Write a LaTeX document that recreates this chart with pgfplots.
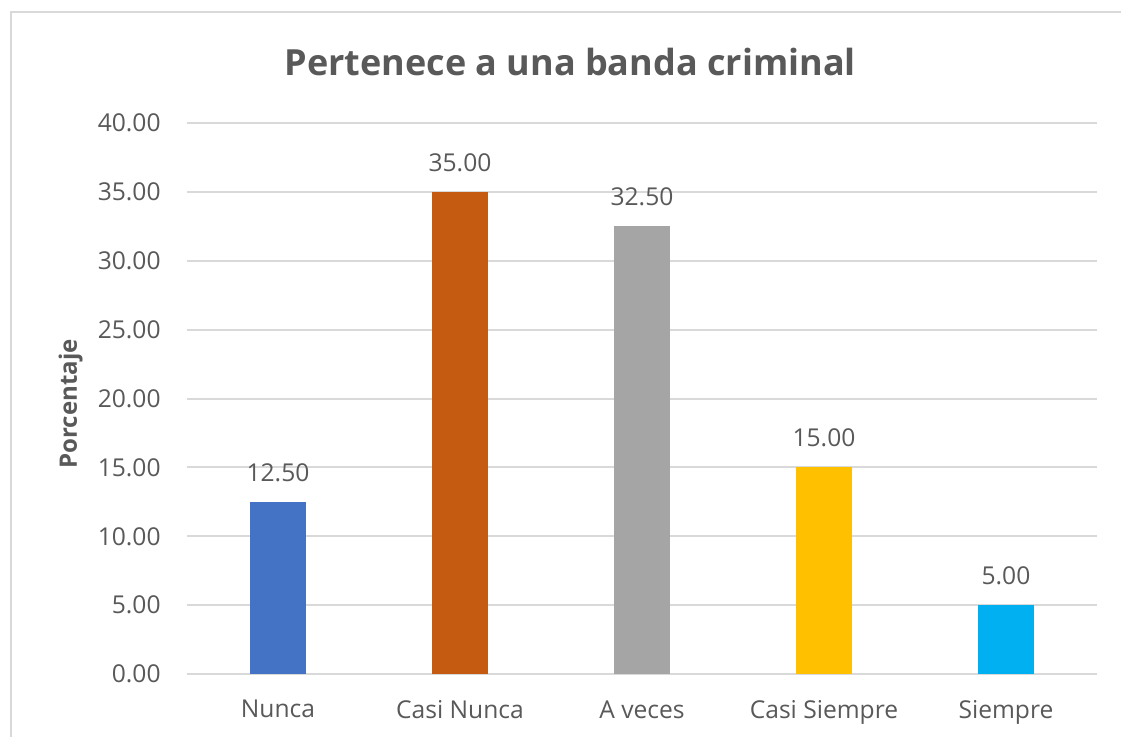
\documentclass[border=0pt]{standalone}
\usepackage{fontspec}
\setmainfont{Open Sans}
\usepackage{pgfplots}
\pgfplotsset{compat=1.18}
\definecolor{txt}{HTML}{595959}
\definecolor{gridc}{HTML}{D9D9D9}
\definecolor{c1}{HTML}{4472C4}
\definecolor{c2}{HTML}{C55A11}
\definecolor{c3}{HTML}{A5A5A5}
\definecolor{c4}{HTML}{FFC000}
\definecolor{c5}{HTML}{00B0F0}
\begin{document}
\begin{tikzpicture}
\useasboundingbox (0,0) rectangle (560.5pt,368pt);
\clip (0,0) rectangle (560.5pt,368pt);
\fill[white] (0,0) rectangle (560.5pt,368pt);
\draw[gridc, line width=1pt] (5.5pt,-10pt) -- (5.5pt,362pt) -- (580pt,362pt);
\begin{axis}[
  at={(93.5pt,31pt)}, anchor=south west,
  scale only axis, width=455pt, height=275.5pt,
  ymin=0, ymax=40, ytick={0,5,...,40},
  xmin=-0.5, xmax=4.5, xtick={0,1,2,3,4},
  xticklabels={Nunca,Casi Nunca,A veces,Casi Siempre,Siempre},
  axis line style={draw=none},
  major tick length=0pt,
  xmajorgrids=false, ymajorgrids=true,
  y grid style={gridc, line width=1pt},
  /pgf/number format/assume math mode=true,
  yticklabel={\pgfmathprintnumber[fixed,fixed zerofill,precision=2]{\tick}},
  ticklabel style={font=\fontsize{12.3}{14}\selectfont, text=txt},
  yticklabel style={anchor=east, inner sep=0pt, xshift=-13pt},
  xticklabel style={anchor=north, inner sep=0pt, yshift=-13pt},
  title={\textbf{Pertenece a una banda criminal}},
  title style={at={(axis description cs:0.421,1.089)}, anchor=center, font=\fontsize{18}{21}\selectfont, text=txt},
  ylabel={\textbf{Porcentaje}},
  ylabel style={at={(axis description cs:-0.128,0.49)}, anchor=center, font=\fontsize{12}{14}\selectfont, text=txt},
  ybar, bar width=28pt, bar shift=0pt,
  nodes near coords={\pgfmathprintnumber[fixed,fixed zerofill,precision=2,assume math mode=true]{\pgfplotspointmeta}},
  every node near coord/.append style={font=\fontsize{12.3}{14}\selectfont, text=txt, inner sep=0pt, yshift=10pt},
]
\addplot[fill=c1, draw=none] coordinates {(0,12.5)};
\addplot[fill=c2, draw=none] coordinates {(1,35)};
\addplot[fill=c3, draw=none] coordinates {(2,32.5)};
\addplot[fill=c4, draw=none] coordinates {(3,15)};
\addplot[fill=c5, draw=none] coordinates {(4,5)};
\end{axis}
\end{tikzpicture}
\end{document}
